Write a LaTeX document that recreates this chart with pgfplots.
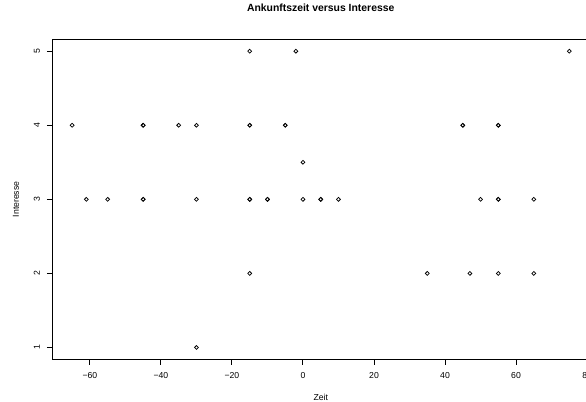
\documentclass[border=0pt]{standalone}
\usepackage{fontspec}
\setmainfont{Liberation Sans}
\usepackage{pgfplots}
\pgfplotsset{compat=1.18}

% Arrival time (minutes) versus interest rating
\begin{document}
\begin{tikzpicture}
\begin{axis}[
  name=ax,
  scale only axis,
  width=402.7pt, height=240pt,
  xmin=-70.6, xmax=80.6,
  ymin=0.84, ymax=5.16,
  axis line style={line width=0.75pt},
  every tick/.style={black, line width=0.75pt},
  tick align=outside,
  major tick length=4pt,
  xtick pos=bottom, ytick pos=left,
  xtick={-60,-40,-20,0,20,40,60,80},
  xticklabels={−60,−40,−20,0,20,40,60,80},
  ytick={1,2,3,4,5},
  yticklabels={1,2,3,4,5},
  font=\fontsize{6.5pt}{7.8pt}\selectfont,
  xticklabel style={anchor=center, yshift=-8.4pt},
  yticklabel style={xshift=-5.2pt, rotate=90, anchor=base},
  title={Ankunftszeit versus Interesse},
  title style={at={(0.5,1)}, anchor=base, yshift=14.5pt,
    font=\fontsize{7.8pt}{9pt}\selectfont\bfseries},
  xlabel={Zeit},
  xlabel style={at={(0.5,0)}, anchor=base, yshift=-30.6pt},
  ylabel={Interesse},
  ylabel style={at={(-0.0621,0.5)}, anchor=base, rotate=0},
]
\addplot[only marks, mark=o, mark size=1.45pt, black,
  mark options={line width=0.55pt}] table {
x y
-15 5
-2 5
75 5
-65 4
-45 4
-45 4
-35 4
-30 4
-15 4
-15 4
-5 4
-5 4
45 4
45 4
55 4
55 4
0 3.5
-61 3
-55 3
-45 3
-45 3
-30 3
-15 3
-15 3
-10 3
-10 3
0 3
5 3
5 3
10 3
50 3
55 3
55 3
65 3
-15 2
35 2
47 2
55 2
65 2
-30 1
};
\end{axis}
\pgfresetboundingbox
\path[use as bounding box] ([xshift=-39.2pt,yshift=-31.3pt]ax.south west)
  rectangle ([xshift=400.3pt,yshift=29.5pt]ax.north west);
\end{tikzpicture}
\end{document}
